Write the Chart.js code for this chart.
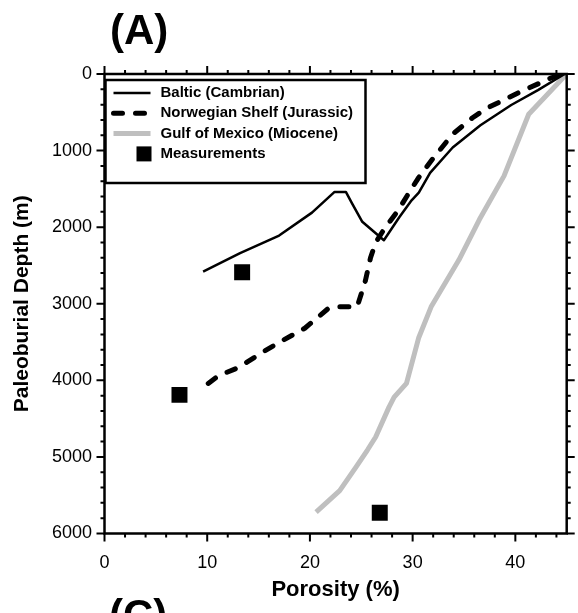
<!DOCTYPE html>
<html>
<head>
<meta charset="utf-8">
<script src="https://cdn.jsdelivr.net/npm/chart.js@4.4.1/dist/chart.umd.min.js"></script>
<style>
  html, body { margin: 0; padding: 0; background: #fff; overflow: hidden; }
  #wrap { position: relative; width: 578px; height: 613px; }
  .panel { position: absolute; font-family: 'Liberation Sans', Arial, sans-serif; font-weight: bold;
           font-size: 42px; line-height: 1; color: #000; }
</style>
</head>
<body>
<div id="wrap">
  <canvas id="chart" width="578" height="613"></canvas>
  <div class="panel" style="left:110px;top:9px">(A)</div>
  <div class="panel" style="left:109px;top:594px">(C)</div>
</div>
<script>
// values (porosity in %, depth in m)
const balticPorosity = [9.6, 13.2, 17.0, 20.2, 22.4, 23.5, 24.1, 25.1, 27.2, 28.7, 29.9, 30.6, 31.7, 33.9, 36.6, 39.6, 42.2, 44.8];
const balticDepth    = [2580, 2340, 2110, 1810, 1540, 1540, 1690, 1930, 2170, 1870, 1650, 1550, 1290, 960, 670, 405, 210, 0];

const norwayPorosity = [10.1, 11.1, 13.1, 15.3, 17.2, 19.5, 21.8, 22.9, 24.6, 25.4, 25.9, 26.4, 27.3, 28.6, 29.6, 30.6, 32.0, 33.9, 35.8, 37.1, 40.3, 43.5, 44.7];
const norwayDepth    = [4040, 3940, 3830, 3640, 3490, 3320, 3060, 3040, 3040, 2700, 2400, 2200, 2010, 1780, 1560, 1350, 1100, 785, 575, 455, 245, 50, 0];

const gulfPorosity = [45.0, 41.3, 38.9, 36.5, 34.5, 31.8, 30.6, 29.4, 28.2, 27.7, 26.4, 25.6, 24.5, 22.9, 20.6];
const gulfDepth    = [0, 525, 1330, 1900, 2430, 3040, 3440, 4040, 4220, 4350, 4740, 4910, 5130, 5440, 5720];

const measPorosity = [13.4, 7.3, 26.8];
const measDepth    = [2590, 4190, 5730];

const seriesLabels = ['Baltic (Cambrian)', 'Norwegian Shelf (Jurassic)', 'Gulf of Mexico (Miocene)', 'Measurements'];
const xTitle = 'Porosity (%)';
const yTitle = 'Paleoburial Depth (m)';

const FONT = "'Liberation Sans', Arial, sans-serif";

const toPoints = (xs, ys) => xs.map((x, i) => ({ x: x, y: ys[i] }));

// frame + major/minor ticks on all four sides
const frameTicks = {
    id: 'frameTicks',
    afterDraw(chart) {
        const { ctx, chartArea: a, scales: { x, y } } = chart;
        ctx.save();
        ctx.strokeStyle = '#000';
        ctx.lineWidth = 2;
        ctx.beginPath();
        for (let v = 0; v <= 44; v += 2) {
            const px = x.getPixelForValue(v);
            const len = v % 10 === 0 ? 8 : 4;
            ctx.moveTo(px, a.bottom); ctx.lineTo(px, a.bottom + len);
            ctx.moveTo(px, a.top); ctx.lineTo(px, a.top - len);
        }
        for (let v = 0; v <= 6000; v += 200) {
            const py = y.getPixelForValue(v);
            const len = v % 1000 === 0 ? 8 : 4;
            ctx.moveTo(a.left, py); ctx.lineTo(a.left - len, py);
            ctx.moveTo(a.right, py); ctx.lineTo(a.right + len, py);
        }
        ctx.stroke();
        ctx.lineWidth = 2.5;
        ctx.strokeRect(a.left, a.top, a.right - a.left, a.bottom - a.top);
        ctx.restore();
    }
};

// boxed legend in the upper left of the plot
const boxLegend = {
    id: 'boxLegend',
    afterDraw(chart) {
        const { ctx, chartArea: a } = chart;
        const left = a.left + 1, top = a.top + 6, w = 260, h = 103;
        ctx.save();
        ctx.fillStyle = '#fff';
        ctx.fillRect(left, top, w, h);
        ctx.strokeStyle = '#000';
        ctx.lineWidth = 2.5;
        ctx.strokeRect(left, top, w, h);
        ctx.font = 'bold 15px ' + FONT;
        ctx.textBaseline = 'middle';
        chart.data.datasets.forEach((ds, i) => {
            const cy = top + 13 + i * 20.3;
            if (ds.showLine) {
                ctx.save();
                ctx.strokeStyle = ds.borderColor;
                ctx.lineWidth = ds.borderWidth;
                ctx.lineCap = ds.borderCapStyle || 'butt';
                ctx.setLineDash(ds.borderDash || []);
                ctx.beginPath();
                ctx.moveTo(left + 8, cy);
                ctx.lineTo(left + 45, cy);
                ctx.stroke();
                ctx.restore();
            } else {
                ctx.fillStyle = ds.backgroundColor;
                ctx.fillRect(left + 31, cy - 7.5, 15, 15);
            }
            ctx.fillStyle = '#000';
            ctx.fillText(ds.label, left + 55, cy);
        });
        ctx.restore();
    }
};

new Chart(document.getElementById('chart'), {
    type: 'scatter',
    data: {
        datasets: [
            {
                label: seriesLabels[0],
                data: toPoints(balticPorosity, balticDepth),
                showLine: true,
                borderColor: '#000',
                backgroundColor: '#000',
                borderWidth: 2.5,
                borderJoinStyle: 'round',
                pointRadius: 0,
                order: 1
            },
            {
                label: seriesLabels[1],
                data: toPoints(norwayPorosity, norwayDepth),
                showLine: true,
                borderColor: '#000',
                backgroundColor: '#000',
                borderWidth: 5,
                borderDash: [9, 13],
                borderCapStyle: 'round',
                borderJoinStyle: 'round',
                pointRadius: 0,
                order: 2
            },
            {
                label: seriesLabels[2],
                data: toPoints(gulfPorosity, gulfDepth),
                showLine: true,
                borderColor: '#bfbfbf',
                backgroundColor: '#bfbfbf',
                borderWidth: 5,
                borderJoinStyle: 'round',
                pointRadius: 0,
                order: 3
            },
            {
                label: seriesLabels[3],
                data: toPoints(measPorosity, measDepth),
                showLine: false,
                backgroundColor: '#000',
                borderColor: '#000',
                borderWidth: 0,
                pointStyle: 'rect',
                pointRadius: 11.3,
                order: 0
            }
        ]
    },
    options: {
        responsive: false,
        animation: false,
        events: [],
        layout: { padding: { top: 74, right: 10.4, left: 0, bottom: 0 } },
        plugins: {
            legend: { display: false },
            tooltip: { enabled: false }
        },
        scales: {
            x: {
                type: 'linear',
                min: 0,
                max: 45,
                grid: { display: false, drawTicks: false },
                border: { display: false },
                ticks: {
                    stepSize: 10,
                    includeBounds: false,
                    padding: 18.5,
                    color: '#000',
                    font: { family: FONT, size: 18 },
                    callback: (v) => String(v)
                },
                title: {
                    display: true,
                    text: xTitle,
                    color: '#000',
                    font: { family: FONT, size: 22, weight: 'bold' },
                    padding: { top: 0, bottom: 10 }
                },
                afterFit(scale) { scale.height = 79.5; }
            },
            y: {
                type: 'linear',
                reverse: true,
                min: 0,
                max: 6000,
                grid: { display: false, drawTicks: false },
                border: { display: false },
                ticks: {
                    stepSize: 1000,
                    padding: 12.5,
                    color: '#000',
                    font: { family: FONT, size: 18 },
                    callback: (v) => String(v)
                },
                title: {
                    display: true,
                    text: yTitle,
                    color: '#000',
                    font: { family: FONT, size: 21, weight: 'bold' },
                    padding: { top: 9.4, bottom: 0 }
                },
                afterFit(scale) { scale.width = 104.5; }
            }
        }
    },
    plugins: [frameTicks, boxLegend]
});
</script>
</body>
</html>
